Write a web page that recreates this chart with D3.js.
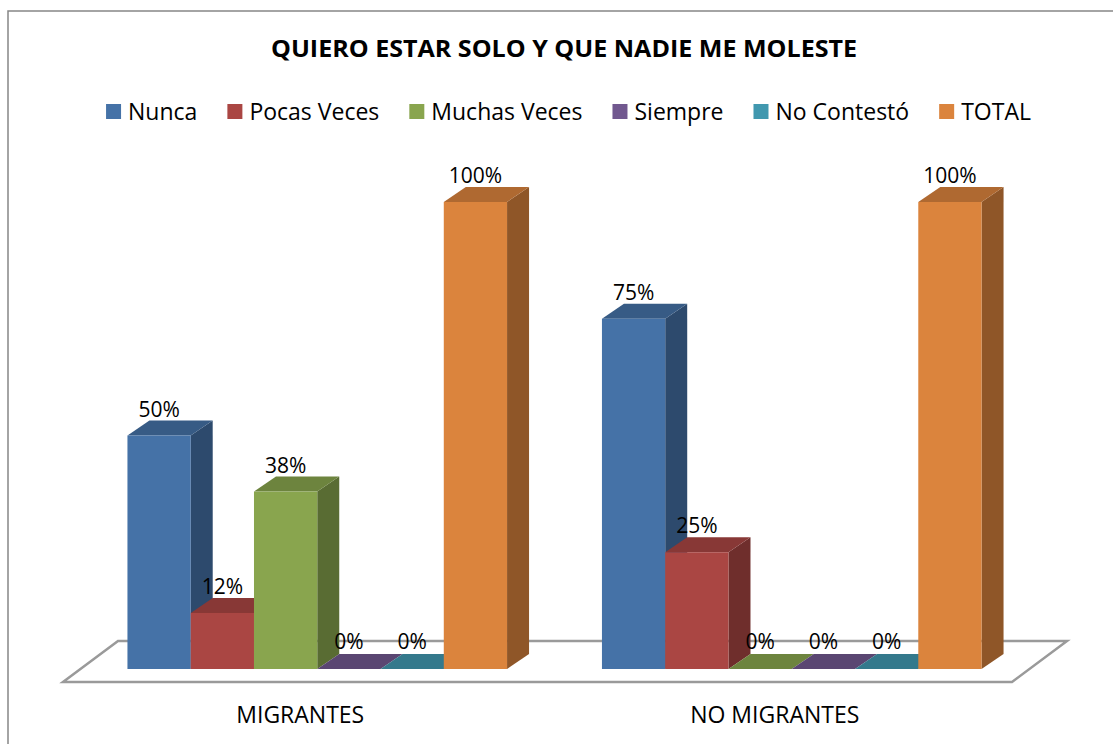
<!DOCTYPE html>
<meta charset="utf-8">
<head>
	<title>Quiero estar solo</title>
	<script src="https://d3js.org/d3.v7.min.js"></script>
</head>
<style type="text/css">
	body {
		margin: 0;
		background: #fff;
		font-family: "Open Sans", sans-serif;
	}
	svg {
		display: block;
	}
	.title {
		font-weight: bold;
		font-size: 24px;
	}
	.legend text,
	.cat-label {
		font-size: 23px;
	}
	.value-label {
		font-size: 21px;
	}
</style>
<body>
<script>
	// data
	var categories = ["MIGRANTES", "NO MIGRANTES"];
	var series = ["Nunca", "Pocas Veces", "Muchas Veces", "Siempre", "No Contestó", "TOTAL"];
	var migrantes = [50, 12, 38, 0, 0, 100];
	var noMigrantes = [75, 25, 0, 0, 0, 100];
	var colors = ["#4572A7", "#AA4643", "#89A54E", "#71588F", "#4198AF", "#DB843D"];

	var width = 1113,
		height = 744;

	// oblique 3d offsets
	var depth = {dx: 22, dy: -15};
	var floorFront = {dx: -17, dy: 13},
		floorBack = {dx: 38, dy: -28};

	var svg = d3.select("body").append("svg")
		.attr("width", width)
		.attr("height", height);

	// chart frame
	svg.append("rect")
		.attr("x", 8)
		.attr("y", 11)
		.attr("width", 1120)
		.attr("height", 740)
		.attr("fill", "#fff")
		.attr("stroke", "#868686")
		.attr("stroke-width", 1.5);

	svg.append("text")
		.attr("class", "title")
		.attr("x", 564)
		.attr("y", 57)
		.attr("text-anchor", "middle")
		.attr("textLength", 586)
		.attr("lengthAdjust", "spacingAndGlyphs")
		.text("QUIERO ESTAR SOLO Y QUE NADIE ME MOLESTE");

	// legend, laid out from measured text widths
	var legend = svg.append("g").attr("class", "legend");
	var items = legend.selectAll("g")
		.data(series)
	 .enter().append("g");
	items.append("rect")
		.attr("width", 15)
		.attr("height", 15)
		.attr("y", 104)
		.attr("fill", function(d, i) { return colors[i]; });
	items.append("text")
		.attr("x", 22)
		.attr("y", 120)
		.text(function(d) { return d; });
	var gap = 30, cursor = 0;
	items.each(function() {
		var w = d3.select(this).select("text").node().getComputedTextLength();
		d3.select(this).attr("transform", "translate(" + cursor + ",0)");
		cursor += 22 + w + gap;
	});
	cursor -= gap;
	legend.attr("transform", "translate(" + (568.5 - cursor / 2) + ",0)");

	var x0 = d3.scaleBand()
		.domain(categories)
		.range([80, 1029])
		.paddingInner(0.2)
		.paddingOuter(0.1);

	var x1 = d3.scaleBand()
		.domain(series)
		.range([0, x0.bandwidth()]);

	var y = d3.scaleLinear()
		.domain([0, 100])
		.range([669, 202]);

	// floor
	var fx0 = x0.range()[0], fx1 = x0.range()[1], fy = y(0);
	svg.append("polygon")
		.attr("points", [
			[fx0 + floorFront.dx, fy + floorFront.dy],
			[fx1 + floorFront.dx, fy + floorFront.dy],
			[fx1 + floorBack.dx, fy + floorBack.dy],
			[fx0 + floorBack.dx, fy + floorBack.dy]
		].map(function(p) { return p.join(","); }).join(" "))
		.attr("fill", "#fff")
		.attr("stroke", "#9a9a9a")
		.attr("stroke-width", 2.5)
		.attr("stroke-linejoin", "miter");

	var rows = [];
	categories.forEach(function(c, ci) {
		var vals = ci === 0 ? migrantes : noMigrantes;
		series.forEach(function(s, si) {
			rows.push({cat: c, key: s, value: vals[si], color: colors[si]});
		});
	});

	function pts(a) {
		return a.map(function(p) { return p.join(","); }).join(" ");
	}

	var bars = svg.append("g").selectAll("g")
		.data(rows)
	 .enter().append("g");

	bars.each(function(d) {
		var g = d3.select(this);
		var xl = x0(d.cat) + x1(d.key),
			xr = xl + x1.bandwidth(),
			yt = y(d.value),
			yb = y(0);
		// side
		g.append("polygon")
			.attr("points", pts([[xr, yt], [xr + depth.dx, yt + depth.dy], [xr + depth.dx, yb + depth.dy], [xr, yb]]))
			.attr("fill", d3.rgb(d.color).darker(1.2));
		// top
		g.append("polygon")
			.attr("points", pts([[xl, yt], [xl + depth.dx, yt + depth.dy], [xr + depth.dx, yt + depth.dy], [xr, yt]]))
			.attr("fill", d3.rgb(d.color).darker(0.63));
		// front
		g.append("rect")
			.attr("x", xl)
			.attr("y", yt)
			.attr("width", x1.bandwidth())
			.attr("height", yb - yt)
			.attr("fill", d.color);
	});

	svg.append("g").selectAll("text")
		.data(rows)
	 .enter().append("text")
		.attr("class", "value-label")
		.attr("text-anchor", "middle")
		.attr("x", function(d) { return x0(d.cat) + x1(d.key) + x1.bandwidth() / 2; })
		.attr("y", function(d) { return y(d.value) - (d.value ? 19 : 20); })
		.text(function(d) { return d.value + "%"; });

	svg.append("g").selectAll("text")
		.data(categories)
	 .enter().append("text")
		.attr("class", "cat-label")
		.attr("text-anchor", "middle")
		.attr("x", function(d) { return x0(d) + x0.bandwidth() / 2 + floorFront.dx; })
		.attr("y", 723)
		.text(function(d) { return d; });
</script>
</body>
